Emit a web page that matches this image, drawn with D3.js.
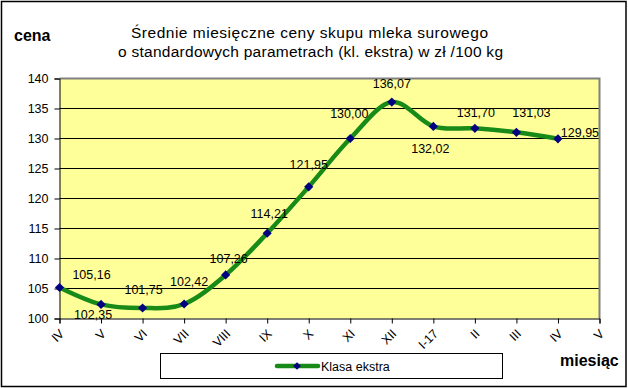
<!DOCTYPE html>
<html><head><meta charset="utf-8">
<script src="https://cdn.jsdelivr.net/npm/d3@7"></script>
<style>body{margin:0;background:#fff}svg{display:block}text{font-family:Arial,"Liberation Sans",sans-serif}</style>
</head><body>
<svg id="c" width="628" height="388"></svg>
<script>
const categories = ["IV","V","VI","VII","VIII","IX","X","XI","XII","I-17","II","III","IV","V"];
const values = [105.16,102.35,101.75,102.42,107.26,114.21,121.95,130.00,136.07,132.02,131.70,131.03,129.95];
const yTicks = [100,105,110,115,120,125,130,135,140];
const seriesName = "Klasa ekstra";
const titleLines = ["Średnie miesięczne ceny skupu mleka surowego","o standardowych parametrach (kl. ekstra) w zł /100 kg"];
// label offsets relative to point: [dx, dy(baseline)], anchor middle unless noted
const labelOffsets = [[32,-9],[-8,15],[1,-14],[5,-18],[3,-12],[2,-15],[0,-18],[-1,-21],[0,-14],[-3,27],[1,-11],[15,-15],[22,-1.5]];

const svg = d3.select("#c");
const L=59.5, R=599.5, T=78.5, B=318.5;
svg.append("rect").attr("x",1.5).attr("y",1.5).attr("width",624.5).attr("height",385).attr("fill","#fff").attr("stroke","#000").attr("stroke-width",1.5);

const x = d3.scalePoint().domain(d3.range(categories.length)).range([L,R]);
const y = d3.scaleLinear().domain([100,140]).range([B,T]);

svg.append("rect").attr("x",L).attr("y",T).attr("width",R-L).attr("height",B-T).attr("fill","#FFFF99");
svg.append("g").selectAll("line").data(yTicks.slice(1,-1)).join("line")
  .attr("x1",L).attr("x2",R).attr("y1",d=>y(d)).attr("y2",d=>y(d)).attr("stroke","#000").attr("stroke-width",1);
svg.append("path").attr("d",`M${L},${T}H${R}V${B}`).attr("fill","none").attr("stroke","#808080").attr("stroke-width",2);

const font = "Arial,'Liberation Sans',sans-serif";
const yAxis = d3.axisLeft(y).tickValues(yTicks).tickSize(5).tickPadding(6).tickFormat(d3.format("d"));
const gy = svg.append("g").attr("transform",`translate(${L},0)`).call(yAxis);
gy.select(".domain").attr("stroke","#000");
gy.selectAll("text").attr("font-size",12.5).attr("fill","#000").style("font-family",font);

const xAxis = d3.axisBottom(x).tickSize(5).tickFormat(i=>categories[i]);
const gx = svg.append("g").attr("transform",`translate(0,${B})`).call(xAxis);
gx.select(".domain").attr("stroke","#000");
gx.selectAll("text").attr("font-size",12.5).attr("fill","#000").style("font-family",font)
  .attr("text-anchor","end").attr("dy",0).attr("y",0)
  .attr("transform","translate(5,16) rotate(-45)");

const line = d3.line().x((d,i)=>x(i)).y(d=>y(d)).curve(d3.curveCardinal.tension(0));
svg.append("path").datum(values).attr("d",line).attr("fill","none").attr("stroke","#178A17").attr("stroke-width",4.5).attr("stroke-linejoin","round");
const diamond = d3.symbol().type(d3.symbolSquare).size(42)();
svg.append("g").selectAll("path").data(values).join("path")
  .attr("d",diamond).attr("transform",(d,i)=>`translate(${x(i)},${y(d)}) rotate(45)`).attr("fill","#000080");

const fmt = v => v.toFixed(2).replace(".",",");
svg.append("g").selectAll("text").data(values).join("text")
  .attr("font-size",12.5).attr("fill","#000").attr("text-anchor","middle")
  .attr("x",(d,i)=>x(i)+labelOffsets[i][0])
  .attr("y",(d,i)=>y(d)+labelOffsets[i][1])
  .text(d=>fmt(d));

const titleLen = [357,385];
const titleCx = [309.5,310.5];
svg.append("g").selectAll("text").data(titleLines).join("text")
  .attr("x",(d,i)=>titleCx[i]-titleLen[i]/2).attr("y",(d,i)=>37.5+i*19).attr("font-size",15.5)
  .attr("textLength",(d,i)=>titleLen[i]).attr("lengthAdjust","spacing").text(d=>d);
svg.append("text").attr("x",14).attr("y",41).attr("font-size",16).attr("font-weight","bold").text("cena");
svg.append("text").attr("x",560).attr("y",366).attr("font-size",16).attr("font-weight","bold").text("miesiąc");

svg.append("rect").attr("x",160.5).attr("y",353.5).attr("width",342).attr("height",25).attr("fill","#fff").attr("stroke","#000");
svg.append("line").attr("x1",277).attr("x2",318).attr("y1",366).attr("y2",366).attr("stroke","#178A17").attr("stroke-width",4.5).attr("stroke-linecap","round");
svg.append("path").attr("d",d3.symbol().type(d3.symbolSquare).size(30)()).attr("transform","translate(297,366) rotate(45)").attr("fill","#000080");
svg.append("text").attr("x",321).attr("y",370.5).attr("font-size",12.5).text(seriesName);
</script>
</body></html>
